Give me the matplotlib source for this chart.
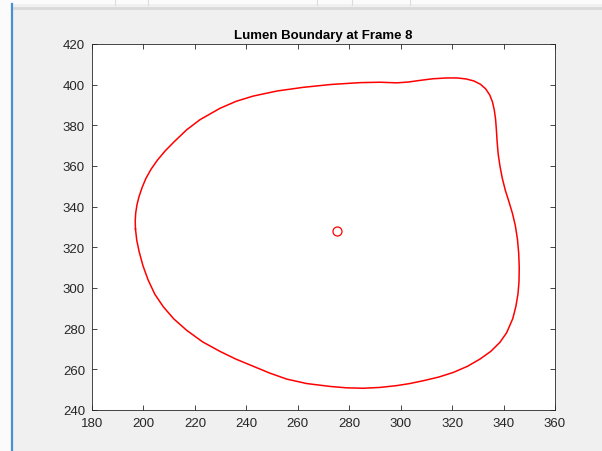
import matplotlib
matplotlib.use("Agg")
import matplotlib.pyplot as plt
from matplotlib.lines import Line2D
from matplotlib.patches import Rectangle

# boundary points (clockwise from the leftmost point)
boundary_x = [196.9, 196.8, 197.0, 197.5, 198.3, 199.5, 201.0, 203.0, 205.5, 208.5,
              212.0, 216.8, 222.0, 229.8, 236.0, 242.7, 252.0, 262.2, 273.0, 284.2,
              292.0, 298.5, 303.0, 307.5, 312.5, 317.9, 322.0, 325.5, 328.5, 331.0,
              333.0, 334.6, 335.7, 336.4, 336.9, 337.2, 337.5, 337.9, 338.6, 339.5,
              340.7, 342.2, 343.5, 344.6, 345.4, 345.9, 346.1, 346.0, 345.6, 344.8,
              343.6, 341.2, 338.6, 335.0, 330.9, 326.0, 320.5, 314.8, 308.8, 303.5,
              298.5, 292.0, 285.5, 279.0, 272.5, 263.5, 255.7, 249.0, 242.7, 236.0,
              229.8, 223.0, 216.8, 211.8, 207.7, 204.4, 201.8, 199.8, 198.3, 197.4,
              196.9]
boundary_y = [329.0, 333.0, 337.0, 341.0, 345.0, 349.5, 354.0, 358.5, 363.0, 367.5,
              372.0, 377.8, 382.8, 388.4, 391.8, 394.4, 396.9, 398.7, 400.1, 401.0,
              401.2, 400.9, 401.3, 402.1, 402.9, 403.3, 403.3, 402.8, 401.8, 400.2,
              398.0, 395.0, 391.5, 387.5, 383.0, 378.0, 372.0, 366.0, 360.0, 354.0,
              348.0, 342.0, 336.5, 330.5, 324.0, 317.0, 310.0, 303.0, 297.0, 291.0,
              285.0, 278.0, 273.3, 268.8, 265.1, 261.5, 258.5, 256.2, 254.4, 253.0,
              252.0, 251.1, 250.7, 250.9, 251.6, 253.0, 255.2, 258.2, 261.5, 265.0,
              268.8, 273.5, 279.2, 284.8, 290.8, 297.0, 304.0, 311.0, 318.0, 323.5,
              329.0]

# centroid marker
center_x = [275.3]
center_y = [327.9]

x_ticks = [180, 200, 220, 240, 260, 280, 300, 320, 340, 360]
y_ticks = [240, 260, 280, 300, 320, 340, 360, 380, 400, 420]

plt.rcParams["font.family"] = ["Liberation Sans", "DejaVu Sans"]

fig = plt.figure(figsize=(6.02, 4.52), dpi=100, facecolor="#f0f0f0")

# window chrome from the screenshot
fig.add_artist(Rectangle((0, 0), 11 / 602, 1, transform=fig.transFigure,
                         facecolor="#fbfbfb", edgecolor="none"))
fig.add_artist(Rectangle((0, 1 - 5 / 452), 1, 5 / 452, transform=fig.transFigure,
                         facecolor="#fbfbfb", edgecolor="none"))
fig.add_artist(Line2D([12 / 602, 1], [1 - 9 / 452, 1 - 9 / 452], transform=fig.transFigure,
                      color="#d9d9d9", lw=2))
fig.add_artist(Line2D([11.5 / 602, 11.5 / 602], [0, 1 - 5 / 452], transform=fig.transFigure,
                      color="#4a8fd6", lw=1.6))
for xp in [115, 148, 317, 352, 410]:
    fig.add_artist(Line2D([xp / 602, xp / 602], [1, 1 - 6 / 452], transform=fig.transFigure,
                          color="#dddddd", lw=0.8))

ax = fig.add_axes([92 / 602, 1 - 411 / 452, 463 / 602, 366 / 452])
ax.set_facecolor("white")

ax.plot(boundary_x, boundary_y, color="red", lw=1.1)
ax.plot(center_x, center_y, "o", color="red", mfc="none", ms=6.5, mew=0.9)

ax.set_xlim(180, 360)
ax.set_ylim(240, 420)
ax.set_xticks(x_ticks)
ax.set_yticks(y_ticks)
ax.tick_params(direction="in", top=True, right=True, length=3.5, width=0.6,
               colors="#262626", labelsize=9.5, pad=5)
for spine in ax.spines.values():
    spine.set_color("#262626")
    spine.set_linewidth(0.6)

ax.set_title("Lumen Boundary at Frame 8", fontsize=9.5, fontweight="bold", pad=4)

fig.savefig("out.png", dpi=100, facecolor=fig.get_facecolor())
